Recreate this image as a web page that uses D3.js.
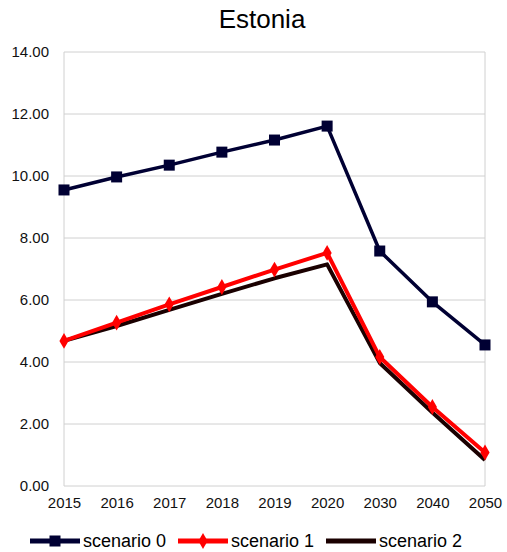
<!DOCTYPE html>
<html>
<head>
<meta charset="utf-8">
<script src="https://cdn.jsdelivr.net/npm/d3@7"></script>
<style>
  body { margin: 0; background: #fff; }
  text { font-family: "Liberation Sans", Arial, sans-serif; fill: #000; }
  .tick text { font-size: 15px; fill: #111; }
</style>
</head>
<body>
<div class="canvas"></div>
<script>
// DATA
var years = ['2015', '2016', '2017', '2018', '2019', '2020', '2030', '2040', '2050'];
var scenario0 = [9.55, 9.97, 10.35, 10.77, 11.16, 11.61, 7.58, 5.94, 4.55];
var scenario1 = [4.68, 5.27, 5.86, 6.42, 6.98, 7.52, 4.16, 2.55, 1.08];
var scenario2 = [4.68, 5.16, 5.68, 6.20, 6.70, 7.15, 3.97, 2.37, 0.84];
var yTicks = [0, 2, 4, 6, 8, 10, 12, 14];

var series = [
  { name: 'scenario 0', values: scenario0, color: '#000033', width: 3.5, marker: 'square' },
  { name: 'scenario 1', values: scenario1, color: '#ff0000', width: 4, marker: 'diamond' },
  { name: 'scenario 2', values: scenario2, color: '#1a0000', width: 4, marker: 'none' }
];

// DIMENSIONS
var w = 507, h = 552;
var margin = { left: 64, right: 22, top: 52, bottom: 66 };

var svg = d3.select('.canvas').append('svg')
  .attr('width', w)
  .attr('height', h);

var x = d3.scalePoint().domain(years).range([margin.left, w - margin.right]);
var y = d3.scaleLinear().domain([0, 14]).range([h - margin.bottom, margin.top]);

// TITLE
svg.append('text')
  .attr('x', 262)
  .attr('y', 28)
  .attr('text-anchor', 'middle')
  .style('font-size', '26px')
  .text('Estonia');

// GRID
svg.append('g')
  .selectAll('line')
  .data(yTicks)
  .enter().append('line')
    .attr('x1', margin.left)
    .attr('x2', w - margin.right)
    .attr('y1', d => y(d))
    .attr('y2', d => y(d))
    .attr('stroke', '#d0d0d0')
    .attr('stroke-width', 1);

svg.append('line')
  .attr('x1', w - margin.right).attr('x2', w - margin.right)
  .attr('y1', margin.top).attr('y2', h - margin.bottom)
  .attr('stroke', '#d0d0d0');
svg.append('line')
  .attr('x1', margin.left).attr('x2', margin.left)
  .attr('y1', margin.top).attr('y2', h - margin.bottom)
  .attr('stroke', '#d0d0d0');

// AXES
var yAxis = svg.append('g')
  .attr('transform', 'translate(' + (margin.left - 12) + ',0)')
  .call(d3.axisLeft(y).tickValues(yTicks).tickFormat(d3.format('.2f')).tickSize(0));
yAxis.select('.domain').remove();
yAxis.selectAll('text').attr('dx', '0');

var xAxis = svg.append('g')
  .attr('transform', 'translate(0,' + (h - margin.bottom + 8) + ')')
  .call(d3.axisBottom(x).tickSize(0));
xAxis.select('.domain').remove();

// LINES
var line = d3.line()
  .x((d, i) => x(years[i]))
  .y(d => y(d));

function drawMarker(g, type, color, cx, cy, size) {
  if (type === 'square') {
    g.append('rect')
      .attr('x', cx - size / 2).attr('y', cy - size / 2)
      .attr('width', size).attr('height', size)
      .attr('fill', color);
  } else if (type === 'diamond') {
    g.append('path')
      .attr('d', d3.symbol().type(d3.symbolDiamond).size(size * size * 0.9)())
      .attr('transform', 'translate(' + cx + ',' + cy + ')')
      .attr('fill', color);
  }
}

// draw in reverse so scenario 0 sits on top
series.slice().reverse().forEach(s => {
  var g = svg.append('g');
  g.append('path')
    .datum(s.values)
    .attr('fill', 'none')
    .attr('stroke', s.color)
    .attr('stroke-width', s.width)
    .attr('stroke-linejoin', 'round')
    .attr('d', line);
  s.values.forEach((v, i) => {
    drawMarker(g, s.marker, s.color, x(years[i]), y(v), s.marker === 'square' ? 11 : 9);
  });
});

// LEGEND
var legendX = [30, 178, 326];
var legendY = 541;
series.forEach((s, i) => {
  var g = svg.append('g');
  g.append('line')
    .attr('x1', legendX[i]).attr('x2', legendX[i] + 50)
    .attr('y1', legendY).attr('y2', legendY)
    .attr('stroke', s.color)
    .attr('stroke-width', 5);
  drawMarker(g, s.marker, s.color, legendX[i] + 25, legendY, s.marker === 'square' ? 11 : 9);
  g.append('text')
    .attr('x', legendX[i] + 53)
    .attr('y', legendY + 6)
    .style('font-size', '18px')
    .text(s.name);
});
</script>
</body>
</html>
